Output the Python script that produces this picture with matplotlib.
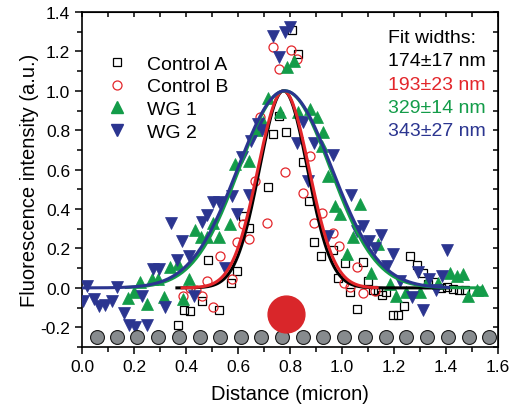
import numpy as np
import matplotlib
matplotlib.use("Agg")
import matplotlib.pyplot as plt
from matplotlib.lines import Line2D

plt.rcParams['font.family'] = ['Liberation Sans', 'DejaVu Sans']
plt.rcParams['axes.unicode_minus'] = False

# ---- data ----
ctrl_a_x = [0.368, 0.394, 0.415, 0.46, 0.486, 0.528, 0.573, 0.597, 0.62, 0.643,
            0.714, 0.736, 0.759, 0.783, 0.806, 0.83, 0.849, 0.874, 0.894, 0.92,
            0.967, 0.986, 1.012, 1.03, 1.056, 1.082, 1.101, 1.12, 1.14, 1.153,
            1.17, 1.195, 1.217, 1.238, 1.262, 1.287, 1.31, 1.33, 1.354, 1.38,
            1.403, 1.426, 1.448, 1.473]
ctrl_a_y = [-0.188, -0.113, -0.118, -0.064, 0.142, -0.112, 0.027, 0.085, 0.365, 0.303,
            0.511, 0.78, 0.872, 0.79, 1.311, 1.188, 0.638, 0.442, 0.232, 0.162,
            0.192, 0.052, 0.126, -0.02, -0.107, 0.13, 0.036, -0.01, -0.015, -0.038,
            -0.02, -0.14, -0.14, -0.09, 0.164, 0.117, 0.078, 0.02, 0.03, 0.0,
            0.004, -0.005, -0.01, -0.013]

ctrl_b_x = [0.39, 0.415, 0.438, 0.46, 0.482, 0.505, 0.529, 0.577, 0.597, 0.619,
            0.644, 0.664, 0.685, 0.71, 0.733, 0.759, 0.779, 0.803, 0.828, 0.851,
            0.877, 0.894, 0.922, 0.966, 0.99, 1.007, 1.031, 1.058, 1.081, 1.125]
ctrl_b_y = [-0.039, 0.0, -0.013, -0.039, 0.036, -0.098, 0.161, 0.044, 0.232, 0.325,
            0.247, 0.543, 0.866, 0.33, 1.222, 1.112, 0.586, 1.205, 1.162, 0.481,
            0.668, 0.33, 0.38, 0.281, 0.215, 0.025, 0.006, 0.105, -0.027, -0.016]

wg1_x = [0.178, 0.2, 0.224, 0.249, 0.27, 0.294, 0.317, 0.34, 0.37, 0.388,
         0.41, 0.435, 0.457, 0.482, 0.505, 0.528, 0.571, 0.588, 0.643, 0.67,
         0.697, 0.717, 0.762, 0.79, 0.815, 0.832, 0.877, 0.903, 0.922, 0.928,
         0.947, 0.973, 0.992, 1.019, 1.044, 1.068, 1.11, 1.137, 1.185, 1.206,
         1.246, 1.3, 1.326, 1.371, 1.415, 1.441, 1.467, 1.486, 1.518, 1.537]
wg1_y = [-0.05, -0.022, 0.032, -0.083, 0.046, 0.046, -0.045, 0.105, 0.12, -0.058,
         0.046, 0.293, 0.26, 0.26, 0.33, 0.26, 0.325, 0.63, 0.642, 0.80,
         0.841, 0.965, 0.892, 1.12, 1.149, 0.892, 0.91, 0.866, 0.722, 0.79,
         0.57, 0.415, 0.376, 0.173, 0.257, 0.426, 0.076, 0.223, 0.02, -0.042,
         -0.022, -0.022, 0.029, 0.025, 0.076, 0.062, 0.068, -0.039, -0.01, -0.013]

wg2_x = [0.003, 0.02, 0.046, 0.067, 0.09, 0.114, 0.133, 0.16, 0.182, 0.205,
         0.229, 0.25, 0.274, 0.297, 0.319, 0.343, 0.367, 0.385, 0.41, 0.432,
         0.462, 0.48, 0.505, 0.528, 0.55, 0.576, 0.597, 0.614, 0.643, 0.65,
         0.675, 0.691, 0.733, 0.758, 0.781, 0.8, 0.826, 0.849, 0.87, 0.893,
         0.947, 0.967, 1.035, 1.056, 1.082, 1.105, 1.127, 1.15, 1.174, 1.197,
         1.223, 1.268, 1.291, 1.313, 1.336, 1.362, 1.383, 1.403]
wg2_y = [-0.064, 0.009, -0.056, -0.093, -0.086, -0.064, 0.004, -0.128, -0.19, -0.197,
         -0.039, -0.186, 0.096, 0.096, -0.098, 0.327, 0.139, 0.238, 0.164, -0.042,
         0.335, 0.372, 0.435, 0.435, 0.103, 0.468, 0.377, 0.663, 0.472, 0.745,
         0.83, 0.802, 1.278, 1.174, 1.301, 1.323, 0.735, 0.841, 0.543, 0.733,
         0.262, 0.673, 0.47, 0.291, 0.313, 0.24, 0.203, 0.266, 0.113, 0.173,
         0.037, -0.047, 0.08, -0.11, 0.046, -0.013, 0.059, 0.19]

# gaussian fits: centre, sigma, x-range
fit_center = [0.775, 0.775, 0.78, 0.78]
fit_sigma = [0.092, 0.098, 0.175, 0.181]
fit_start = [0.365, 0.385, 0.17, 0.0]
fit_end = [1.41, 1.135, 1.54, 1.41]

widths = ['174±17 nm', '193±23 nm', '329±14 nm', '343±27 nm']
labels = ['Control A', 'Control B', 'WG 1', 'WG 2']

# waveguide circles along the bottom, and the red dot
gray_x = [0.056, 0.134, 0.213, 0.293, 0.372, 0.452, 0.531, 0.61, 0.69, 0.77,
          0.849, 0.928, 1.008, 1.088, 1.168, 1.248, 1.328, 1.408, 1.488, 1.567]
gray_y = -0.25
red_dot = (0.783, -0.132)

black = '#000000'
red = '#e3262b'
green = '#139c49'
blue = '#2b3590'
colors = [black, red, green, blue]

fig = plt.figure(figsize=(5.11, 4.10), dpi=100)
ax = fig.add_axes([0.1605, 0.1512, 0.8141, 0.8171])

# data points
ax.plot(ctrl_a_x, ctrl_a_y, 's', ms=5.5, mfc='none', mec=black, mew=0.9, zorder=3)
ax.plot(ctrl_b_x, ctrl_b_y, 'o', ms=6.5, mfc='none', mec=red, mew=0.9, zorder=3)
ax.plot(wg1_x, wg1_y, '^', ms=8, mfc=green, mec=green, mew=0.5, zorder=3)
ax.plot(wg2_x, wg2_y, 'v', ms=8, mfc=blue, mec=blue, mew=0.5, zorder=3)

# fit curves
for c, s, a, b, col in zip(fit_center, fit_sigma, fit_start, fit_end, colors):
    xx = np.linspace(a, b, 300)
    ax.plot(xx, np.exp(-(xx - c) ** 2 / (2 * s ** 2)), color=col, lw=2.2, zorder=4)

ax.plot(gray_x, [gray_y] * len(gray_x), 'o', ms=10, mfc='#878b8e', mec='#1a1a1a',
        mew=0.8, zorder=5, clip_on=False)
ax.plot([red_dot[0]], [red_dot[1]], 'o', ms=26.5, color='#d9262a', zorder=5)

ax.set_xlim(0, 1.6)
ax.set_ylim(-0.3, 1.4)
ax.set_xticks(np.arange(0, 1.61, 0.2))
ax.set_yticks(np.arange(-0.2, 1.41, 0.2))
ax.set_xticks(np.arange(0.1, 1.6, 0.2), minor=True)
ax.set_yticks(np.arange(-0.3, 1.4, 0.2), minor=True)
ax.xaxis.set_major_formatter(plt.FormatStrFormatter('%.1f'))
ax.yaxis.set_major_formatter(plt.FormatStrFormatter('%.1f'))
ax.tick_params(which='major', direction='out', length=5, width=1.1, labelsize=12.5)
ax.tick_params(which='minor', direction='out', length=3.5, width=1.1)
for sp in ax.spines.values():
    sp.set_linewidth(1.2)

top = ax.secondary_xaxis('top')
top.set_xticks(np.arange(0, 1.61, 0.1))
top.tick_params(direction='in', length=3.5, width=1.1, labeltop=False)
right = ax.secondary_yaxis('right')
right.set_yticks(np.arange(-0.3, 1.41, 0.1))
right.tick_params(direction='in', length=3.5, width=1.1, labelright=False)

ax.set_xlabel('Distance (micron)', fontsize=14.5, labelpad=7)
ax.set_ylabel('Fluorescence intensity (a.u.)', fontsize=14.5, labelpad=1)

# legend
handles = [
    Line2D([], [], ls='none', marker='s', ms=5.5, mfc='none', mec=black, mew=0.9),
    Line2D([], [], ls='none', marker='o', ms=6.5, mfc='none', mec=red, mew=0.9),
    Line2D([], [], ls='none', marker='^', ms=8, mfc=green, mec=green),
    Line2D([], [], ls='none', marker='v', ms=8, mfc=blue, mec=blue),
]
ax.legend(handles, labels, loc='upper left', bbox_to_anchor=(0.043, 0.895),
          frameon=False, fontsize=14, labelspacing=0.27, handlelength=1.0,
          handletextpad=1.0, borderaxespad=0)

# fit widths text
ax.text(1.175, 1.27, 'Fit widths:', fontsize=14, va='center', ha='left')
for i, (w, col) in enumerate(zip(widths, colors)):
    ax.text(1.175, 1.152 - i * 0.118, w, fontsize=14, va='center', ha='left', color=col)

fig.savefig('out.png', dpi=100)
